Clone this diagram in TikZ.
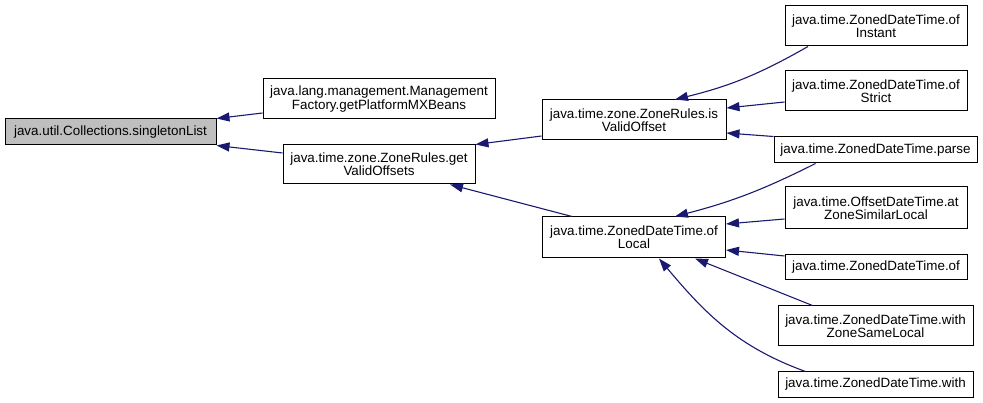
\documentclass[tikz,border=0pt]{standalone}
\usepackage{fontspec}
\setmainfont{Liberation Sans}
\usetikzlibrary{arrows.meta}
\definecolor{edgeblue}{HTML}{191970}
\definecolor{rootgray}{HTML}{BFBFBF}

\begin{document}
\begin{tikzpicture}[x=1pt,y=-1pt,
      func/.style={draw=black, line width=1pt, fill=white, align=center, inner sep=0pt,
        font=\fontsize{13.4}{13.3}\selectfont, minimum height=40pt},
      short/.style={minimum height=26pt},
      call/.style={draw=edgeblue, line width=1.1pt, -{Triangle[length=13pt,width=9pt]}}
    ]
    \useasboundingbox (0,0) rectangle (983,403);

    \node[func, short, fill=rootgray, minimum width=211pt] (root) at (110.5,132) {java.util.Collections.singletonList};
    \node[func, minimum width=232pt] (mgmt) at (379,99) {java.lang.management.Management\\Factory.getPlatformMXBeans};
    \node[func, minimum width=192pt, minimum height=39pt] (getvo) at (379,164.5) {java.time.zone.ZoneRules.get\\ValidOffsets};
    \node[func, minimum width=184pt] (isvo) at (634,120) {java.time.zone.ZoneRules.is\\ValidOffset};
    \node[func, minimum width=183pt, minimum height=41pt] (oflocal) at (634,237.5) {java.time.ZonedDateTime.of\\Local};

    \node[func, minimum width=182pt] (ofinstant) at (876,26) {java.time.ZonedDateTime.of\\Instant};
    \node[func, minimum width=182pt] (ofstrict) at (876,91) {java.time.ZonedDateTime.of\\Strict};
    \node[func, short, minimum width=203pt] (parse) at (875.5,150) {java.time.ZonedDateTime.parse};
    \node[func, minimum width=182pt, minimum height=42pt] (atzone) at (876,208) {java.time.OffsetDateTime.at\\ZoneSimilarLocal};
    \node[func, short, minimum width=182pt, minimum height=25pt] (of) at (876,267.5) {java.time.ZonedDateTime.of};
    \node[func, minimum width=195pt] (withzsl) at (875.5,326) {java.time.ZonedDateTime.with\\ZoneSameLocal};
    \node[func, short, minimum width=195pt, minimum height=25pt] (with) at (875.5,384.5) {java.time.ZonedDateTime.with};

    \draw[call] ([yshift=-14pt]mgmt.west) -- (root.north east);
    \draw[call] ([yshift=11.5pt]getvo.west) -- (root.south east);
    \draw[call] ([yshift=-16pt]isvo.west) -- (getvo.north east);
    \draw[call] ([xshift=-62pt]oflocal.north) -- ([xshift=71pt]getvo.south);
    \draw[call] ([xshift=-68pt]ofinstant.south) to[bend left=8] ([xshift=41pt]isvo.north);
    \draw[call] ([yshift=-11pt]ofstrict.west) -- ([yshift=12pt]isvo.east);
    \draw[call] (parse.north west) -- ([yshift=-13pt]isvo.east);
    \draw[call] ([xshift=-60pt]parse.south) to[bend left=6] ([xshift=41pt]oflocal.north);
    \draw[call] ([yshift=-11pt]atzone.west) -- ([yshift=13.5pt]oflocal.east);
    \draw[call] ([yshift=11.5pt]of.west) -- ([yshift=-12.5pt]oflocal.east);
    \draw[call] ([xshift=-63pt]withzsl.north) -- ([xshift=61pt]oflocal.south);
    \draw[call] ([xshift=-70pt]with.north) to[out=160,in=-50] ([xshift=25pt]oflocal.south);
  \end{tikzpicture}
\end{document}
